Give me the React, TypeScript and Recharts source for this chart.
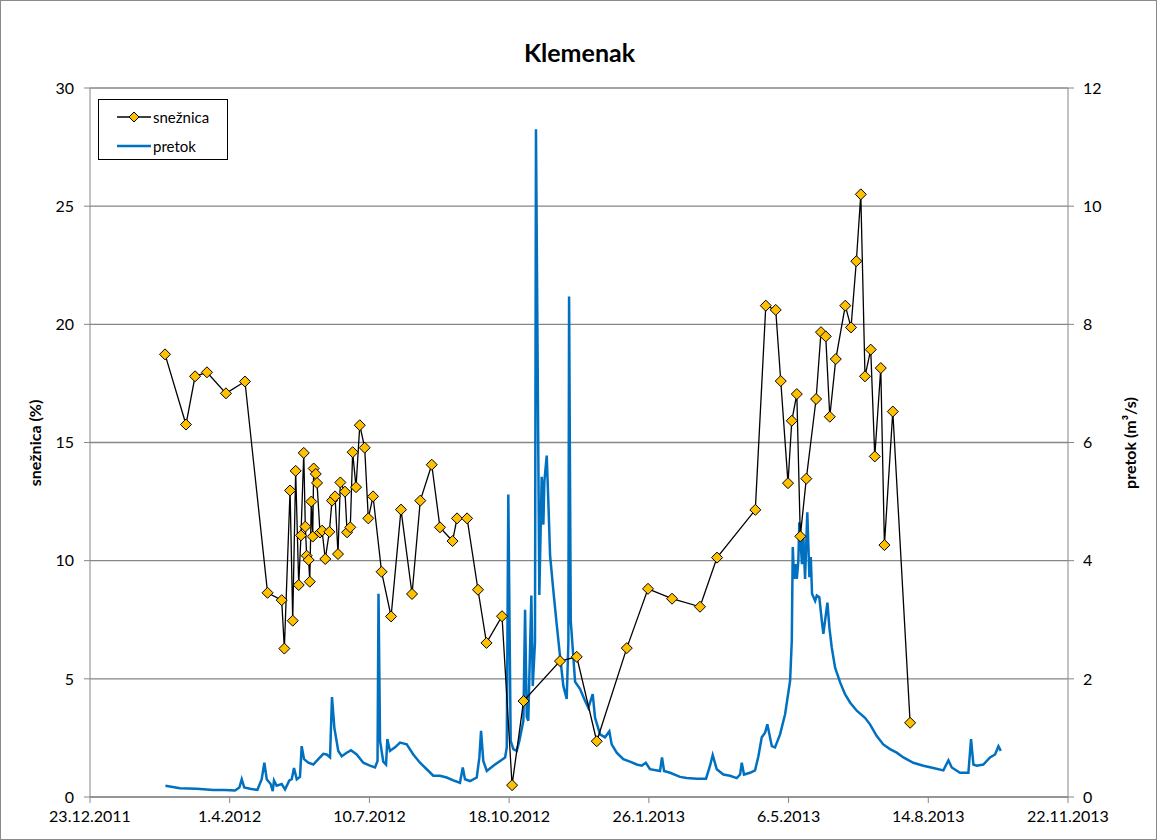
import React from 'react';
import { ComposedChart, Line, XAxis, YAxis, CartesianGrid } from 'recharts';

// days counted from 23.12.2011
const snowDays = [
  53.7, 68.7, 75.2, 83.7, 97.3, 110.9, 127.1, 137.2, 139.1, 143.2, 145.1, 147.2, 149.4, 151.0, 153.0,
  154.1, 155.1, 156.5, 157.3, 158.4, 159.4, 160.1, 161.6, 162.5, 164.6, 166.1, 168.4, 171.3, 173.2,
  175.4, 177.5, 179.2, 182.5, 184.0, 186.3, 188.0, 190.4, 193.1, 196.6, 199.2, 202.6, 208.7, 215.5,
  222.6, 230.5, 236.4, 244.6, 250.5, 259.5, 262.7, 269.9, 277.7, 283.8, 294.9, 302.1, 310.3, 336.4,
  348.4, 362.7, 384.2, 399.4, 416.6, 436.6, 448.8, 476.2, 483.7, 490.8, 494.4, 499.6, 502.3, 505.9,
  508.4, 512.7, 519.7, 523.2, 526.6, 529.5, 533.8, 540.6, 544.7, 548.5, 551.7, 554.7, 558.8, 561.7,
  566.0, 568.6, 574.6, 587.0,
];
const snowValues = [
  18.73, 15.76, 17.8, 17.97, 17.08, 17.58, 8.64, 8.33, 6.28, 12.97, 7.46, 13.8, 8.97, 11.07, 14.56,
  11.44, 10.21, 10.03, 9.11, 12.5, 11.02, 13.9, 13.67, 13.29, 11.19, 11.27, 10.07, 11.22, 12.54,
  12.72, 10.28, 13.31, 12.92, 11.2, 11.41, 14.59, 13.11, 15.73, 14.78, 11.79, 12.72, 9.53, 7.64,
  12.16, 8.59, 12.54, 14.06, 11.41, 10.83, 11.79, 11.79, 8.77, 6.52, 7.65, 0.5, 4.06, 5.75,
  5.93, 2.36, 6.3, 8.81, 8.39, 8.05, 10.13, 12.15, 20.79, 20.61, 17.6, 13.28, 15.92, 17.05,
  11.03, 13.47, 16.84, 19.67, 19.49, 16.09, 18.53, 20.79, 19.87, 22.67, 25.5, 17.8, 18.93, 14.41,
  18.15, 10.66, 16.31, 3.14,
];

const flowDays = [
  54.0, 64.4, 76.4, 88.3, 96.6, 103.8, 106.9, 108.6, 110.4, 114.5, 119.8, 122.9, 124.8, 126.5, 129.3,
  130.8, 131.7, 133.6, 137.2, 139.6, 142.7, 144.4, 146.0, 148.0, 150.3, 151.5, 153.2, 156.3, 159.8,
  163.4, 167.0, 169.4, 171.8, 173.2, 174.9, 177.7, 180.2, 183.7, 186.8, 190.9, 195.6, 200.4, 204.0,
  205.8, 206.5, 207.6, 209.9, 211.9, 212.8, 214.7, 218.3, 221.9, 226.7, 231.4, 236.2, 241.0, 245.7,
  250.5, 255.3, 261.3, 264.8, 266.8, 268.4, 272.0, 276.8, 278.7, 279.9, 281.5, 284.0, 288.7, 293.5,
  297.1, 298.3, 299.4, 301.1, 303.0, 305.4, 307.3, 310.2, 311.4, 312.6, 313.7, 315.9, 316.9, 318.5,
  319.2, 321.6, 323.3, 324.5, 325.2, 326.9, 328.1, 329.3, 331.6, 334.1, 336.4, 338.8, 341.2, 342.4,
  342.9, 344.1, 347.2, 350.7, 354.3, 356.7, 359.8, 361.5, 365.1, 368.6, 371.7, 373.4, 377.0, 381.7,
  386.5, 391.3, 394.9, 397.8, 400.8, 408.0, 409.4, 410.9, 415.2, 422.3, 427.1, 434.3, 440.9, 443.8,
  445.7, 448.6, 453.3, 458.1, 462.9, 465.3, 466.5, 468.1, 472.4, 476.0, 478.4, 480.8, 483.2, 484.8,
  488.0, 490.3, 493.9, 497.5, 501.1, 502.3, 503.0, 503.9, 504.9, 505.9, 507.0, 507.7, 508.7, 509.6,
  510.6, 511.8, 513.4, 514.9, 515.9, 516.8, 519.0, 520.2, 522.0, 523.8, 524.9, 526.1, 527.8, 529.2,
  530.9, 533.3, 536.9, 540.4, 544.0, 548.8, 554.7, 558.3, 563.1, 567.8, 572.6, 577.4, 582.2, 589.3,
  596.5, 603.6, 610.8, 614.4, 616.8, 622.7, 628.7, 630.6, 632.3, 634.7, 639.4, 644.2, 647.8, 650.2,
  651.9,
];
const flowValues = [
  0.19, 0.15, 0.14, 0.12, 0.12, 0.11, 0.16, 0.3, 0.16, 0.14, 0.12, 0.3, 0.58, 0.3, 0.22,
  0.1, 0.28, 0.19, 0.22, 0.13, 0.28, 0.3, 0.49, 0.3, 0.34, 0.86, 0.64, 0.58, 0.55,
  0.64, 0.73, 0.72, 0.67, 1.69, 1.17, 0.78, 0.69, 0.75, 0.79, 0.72, 0.58, 0.53, 0.5,
  0.61, 3.44, 0.95, 0.6, 0.55, 0.98, 0.78, 0.84, 0.92, 0.89, 0.72, 0.58, 0.47, 0.36,
  0.36, 0.33, 0.27, 0.24, 0.5, 0.3, 0.27, 0.33, 0.67, 1.12, 0.61, 0.44, 0.53, 0.61,
  0.67, 0.84, 5.12, 0.95, 0.81, 0.78, 0.95, 1.29, 3.17, 1.36, 1.29, 3.41, 1.88, 2.62,
  11.3, 3.42, 5.42, 4.61, 5.34, 5.78, 4.97, 4.09, 3.5, 2.91, 2.39, 1.88, 1.66, 2.62,
  8.47, 2.98, 1.95, 1.83, 1.63, 1.51, 1.74, 1.34, 1.06, 1.01, 1.11, 0.89, 0.75, 0.64,
  0.6, 0.55, 0.53, 0.58, 0.47, 0.44, 0.67, 0.44, 0.41, 0.34, 0.32, 0.31, 0.31, 0.53,
  0.71, 0.47, 0.38, 0.36, 0.32, 0.38, 0.58, 0.38, 0.41, 0.45, 0.69, 1.01, 1.09, 1.23,
  0.86, 0.84, 1.06, 1.4, 1.97, 2.64, 4.23, 3.69, 3.94, 3.69, 4.0, 4.65, 4.28, 3.94,
  4.4, 3.69, 4.82, 3.72, 4.06, 3.44, 3.32, 3.41, 3.38, 2.98, 2.76, 2.98, 3.29, 2.87,
  2.53, 2.19, 1.94, 1.74, 1.6, 1.46, 1.34, 1.23, 1.03, 0.89, 0.81, 0.75, 0.67, 0.58,
  0.53, 0.49, 0.45, 0.62, 0.5, 0.41, 0.41, 0.98, 0.55, 0.53, 0.55, 0.67, 0.72, 0.86,
  0.78,
];

const xTicks = [0, 100, 200, 300, 400, 500, 600, 700];
const snowTicks = [0, 5, 10, 15, 20, 25, 30];
const flowTicks = [0, 2, 4, 6, 8, 10, 12];

const START = Date.UTC(2011, 11, 23);
const fmtDate = (d: number) => {
  const dt = new Date(START + Math.round(d) * 86400000);
  return `${dt.getUTCDate()}.${dt.getUTCMonth() + 1}.${dt.getUTCFullYear()}`;
};

const snowData = snowDays.map((day, i) => ({ day, snow: snowValues[i] }));
const flowData = flowDays.map((day, i) => ({ day, flow: flowValues[i] }));

const FONT = 'Lato, "Liberation Sans", sans-serif';
const AX = '#868686';

const Diamond = (props: any) => {
  const { cx, cy } = props;
  if (cx == null || cy == null) return null;
  const r = 5.5;
  return (
    <polygon
      points={`${cx},${cy - r} ${cx + r},${cy} ${cx},${cy + r} ${cx - r},${cy}`}
      fill="#FFC000"
      stroke="#000"
      strokeWidth={1}
    />
  );
};

const tickStyle = { fill: '#000', fontSize: 16, fontFamily: FONT };

export default function App() {
  return (
    <div
      style={{
        position: 'absolute',
        top: 0,
        left: 0,
        width: 1157,
        height: 840,
        boxSizing: 'border-box',
        border: '1px solid #8a8a8a',
        background: '#fff',
        fontFamily: FONT,
      }}
    >
      <div style={{ position: 'absolute', top: 36, left: 0, width: 1157, textAlign: 'center', fontSize: 25, fontWeight: 700 }}>
        Klemenak
      </div>
      <div
        style={{
          position: 'absolute', left: 33, top: 442, fontSize: 16, fontWeight: 700,
          transform: 'translate(-50%, -50%) rotate(-90deg)', whiteSpace: 'nowrap',
        }}
      >
        snežnica (%)
      </div>
      <div
        style={{
          position: 'absolute', left: 1128, top: 442, fontSize: 16, fontWeight: 700,
          transform: 'translate(-50%, -50%) rotate(-90deg)', whiteSpace: 'nowrap',
        }}
      >
        pretok (m³/s)
      </div>
      <div style={{ position: 'absolute', top: 0, left: 0 }}>
        <ComposedChart width={1155} height={838} margin={{ top: 87, right: 28, bottom: 2, left: 29 }}>
          <CartesianGrid yAxisId="left" vertical={false} stroke={AX} strokeWidth={1.3} />
          <XAxis
            type="number"
            dataKey="day"
            domain={[0, 700]}
            ticks={xTicks}
            tickFormatter={fmtDate}
            allowDataOverflow
            height={40}
            stroke={AX}
            tickSize={6}
            tickMargin={8}
            tick={tickStyle}
          />
          <YAxis
            yAxisId="left"
            domain={[0, 30]}
            ticks={snowTicks}
            width={60}
            stroke={AX}
            tickSize={6}
            tickMargin={10}
            tick={tickStyle}
          />
          <YAxis
            yAxisId="right"
            orientation="right"
            domain={[0, 12]}
            ticks={flowTicks}
            width={60}
            stroke={AX}
            tickSize={6}
            tickMargin={9}
            tick={tickStyle}
          />
          <Line
            yAxisId="right"
            data={flowData}
            dataKey="flow"
            type="linear"
            stroke="#0070C0"
            strokeWidth={2.5}
            dot={false}
            isAnimationActive={false}
          />
          <Line
            yAxisId="left"
            data={snowData}
            dataKey="snow"
            type="linear"
            stroke="#000"
            strokeWidth={1.3}
            dot={<Diamond />}
            isAnimationActive={false}
          />
        </ComposedChart>
      </div>
      <div
        style={{
          position: 'absolute', left: 97, top: 98, width: 130, height: 61,
          boxSizing: 'border-box', border: '1px solid #000', background: '#fff', fontSize: 15,
        }}
      >
        <div style={{ position: 'absolute', left: 18, top: 8, display: 'flex', alignItems: 'center' }}>
          <svg width={34} height={14}>
            <line x1={0} y1={7} x2={34} y2={7} stroke="#000" strokeWidth={1.3} />
            <polygon points="17,2 22,7 17,12 12,7" fill="#FFC000" stroke="#000" strokeWidth={1} />
          </svg>
          <span style={{ marginLeft: 2 }}>snežnica</span>
        </div>
        <div style={{ position: 'absolute', left: 18, top: 37, display: 'flex', alignItems: 'center' }}>
          <svg width={34} height={14}>
            <line x1={0} y1={7} x2={34} y2={7} stroke="#0070C0" strokeWidth={2.5} />
          </svg>
          <span style={{ marginLeft: 2 }}>pretok</span>
        </div>
      </div>
    </div>
  );
}
